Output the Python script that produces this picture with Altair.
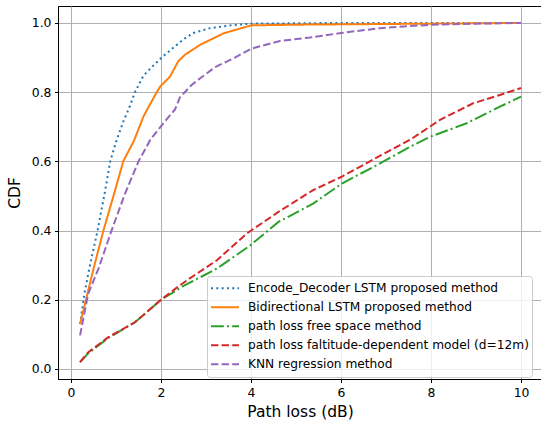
import altair as alt
import pandas as pd

# ---- data ----
names = [
    "Encode_Decoder LSTM proposed method",
    "Bidirectional LSTM proposed method",
    "path loss free space method",
    "path loss faltitude-dependent model (d=12m)",
    "KNN regression method",
]
colors = ["#1f77b4", "#ff7f0e", "#2ca02c", "#d62728", "#9467bd"]
dashes = [[2, 3.3], [1, 0], [12.8, 3.2, 2, 3.2], [7.4, 3.2], [7.4, 3.2]]

enc_x = [0.2, 0.3, 0.42, 0.59, 0.76, 0.87, 1.01, 1.16, 1.29, 1.42, 1.61, 1.83, 2.04, 2.49, 2.72, 3.09, 3.53, 4.0, 5, 6, 7, 8, 9, 10]
enc_y = [0.13, 0.22, 0.30, 0.40, 0.517, 0.60, 0.66, 0.715, 0.754, 0.80, 0.848, 0.877, 0.903, 0.952, 0.971, 0.985, 0.993, 0.998, 0.999, 1.0, 1.0, 1.0, 1.0, 1.0]

bi_x = [0.2, 0.5, 0.72, 0.98, 1.16, 1.4, 1.61, 1.87, 1.98, 2.2, 2.38, 2.53, 2.87, 3.39, 4.0, 5, 6, 7, 8, 9, 10]
bi_y = [0.13, 0.29, 0.40, 0.517, 0.60, 0.66, 0.73, 0.792, 0.816, 0.845, 0.889, 0.908, 0.937, 0.97, 0.993, 0.995, 0.996, 0.997, 0.998, 0.999, 1.0]

fs_x = [0.2, 0.38, 0.83, 1.42, 2.0, 2.5, 3.24, 3.98, 4.61, 5.38, 6.02, 6.72, 7.53, 7.98, 8.79, 9.53, 10]
fs_y = [0.02, 0.045, 0.09, 0.135, 0.2, 0.24, 0.29, 0.357, 0.425, 0.478, 0.536, 0.584, 0.642, 0.671, 0.71, 0.758, 0.787]

alt_x = [0.2, 0.38, 0.83, 1.42, 2.0, 2.4, 2.64, 3.24, 3.9, 4.61, 5.38, 6.02, 6.64, 7.31, 7.53, 8.2, 8.94, 9.53, 10]
alt_y = [0.02, 0.048, 0.092, 0.135, 0.2, 0.24, 0.262, 0.314, 0.391, 0.454, 0.517, 0.556, 0.60, 0.647, 0.662, 0.72, 0.768, 0.792, 0.812]

knn_x = [0.2, 0.38, 0.61, 0.9, 1.2, 1.5, 1.76, 2.05, 2.31, 2.42, 2.68, 2.87, 3.2, 3.64, 4.01, 4.64, 5.31, 6.0, 6.87, 8.0, 9.0, 10]
knn_y = [0.097, 0.217, 0.29, 0.40, 0.507, 0.60, 0.662, 0.71, 0.75, 0.785, 0.821, 0.84, 0.872, 0.90, 0.926, 0.948, 0.958, 0.971, 0.985, 0.995, 0.998, 1.0]

x_ticks = [0, 2, 4, 6, 8, 10]
y_ticks = [0.0, 0.2, 0.4, 0.6, 0.8, 1.0]

series = [(enc_x, enc_y), (bi_x, bi_y), (fs_x, fs_y), (alt_x, alt_y), (knn_x, knn_y)]
rows = []
for i, (xs, ys) in enumerate(series):
    for j, (xv, yv) in enumerate(zip(xs, ys)):
        rows.append({"method": names[i], "order": i, "idx": j, "x": xv, "y": yv})
df = pd.DataFrame(rows)

FONT = "DejaVu Sans"

leg = alt.Legend(orient="none", legendX=149, legendY=270)

chart = alt.Chart(df).mark_line(strokeWidth=2).encode(
    x=alt.X("x:Q", title="Path loss (dB)",
            scale=alt.Scale(domain=[-0.29, 10.466], nice=False, zero=False),
            axis=alt.Axis(values=x_ticks, format="d")),
    y=alt.Y("y:Q", title="CDF",
            scale=alt.Scale(domain=[-0.029, 1.049], nice=False, zero=False),
            axis=alt.Axis(values=y_ticks, format=".1f")),
    color=alt.Color("method:N", scale=alt.Scale(domain=names, range=colors),
                    sort=names, title=None, legend=leg),
    strokeDash=alt.StrokeDash("method:N", scale=alt.Scale(domain=names, range=dashes),
                              sort=names, title=None, legend=leg),
    detail="method:N",
    order="idx:Q",
).properties(
    width=484, height=373,
    padding={"left": 58, "top": 6, "right": -1, "bottom": 42},
    autosize=alt.AutoSizeParams(type="none"),
).configure_view(
    stroke="black", strokeWidth=1
).configure_axis(
    labelFont=FONT, titleFont=FONT, labelFontSize=12.4, titleFontSize=15.5,
    labelColor="black", titleColor="black", titleFontWeight="normal",
    domainColor="black", domainWidth=1, tickColor="black", tickWidth=1, tickSize=3.5,
    gridColor="#b0b0b0", gridWidth=1, labelPadding=3.5,
).configure_axisX(
    titlePadding=6,
).configure_axisY(
    titlePadding=9,
).configure_legend(
    labelFont=FONT, labelFontSize=12.2, labelColor="black", labelLimit=400,
    symbolType="stroke", symbolSize=784, symbolStrokeWidth=2,
    fillColor="rgba(255,255,255,0.8)", strokeColor="#cccccc", cornerRadius=3,
    padding=3, rowPadding=0, labelOffset=8, clipHeight=18.5,
)

chart.save("out.html", embed_options={"renderer": "svg", "actions": False})
